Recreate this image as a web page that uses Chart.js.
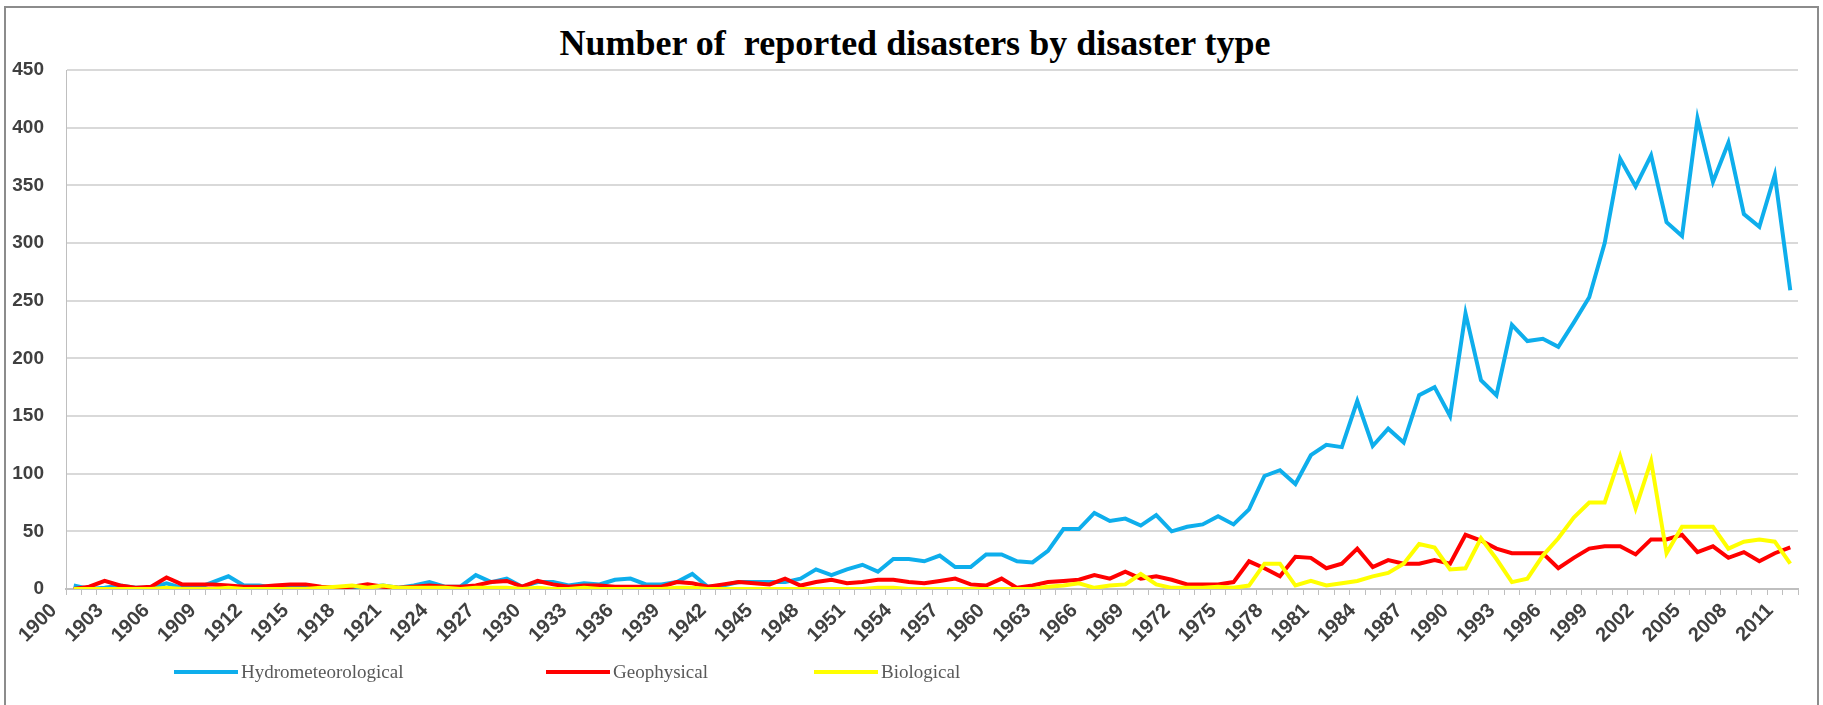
<!DOCTYPE html>
<html>
<head>
<meta charset="utf-8">
<title>Number of reported disasters by disaster type</title>
<script src="https://cdn.jsdelivr.net/npm/chart.js@4.4.1/dist/chart.umd.min.js"></script>
<style>
  html, body { margin: 0; padding: 0; background: #fff; }
  .wrap { position: relative; width: 1823px; height: 705px; overflow: hidden; }
  .frame { position: absolute; left: 4px; top: 6px; width: 1815px; height: 760px; border: 2px solid #8c8c8c; box-sizing: border-box; }
  .title { position: absolute; left: 0; top: 22px; width: 1830px; text-align: center; line-height: 43px;
           font: bold 36px 'Liberation Serif', 'Times New Roman', serif; color: #000; white-space: pre; }
  canvas { position: absolute; left: 0; top: 0; }
  .legend { position: absolute; left: 0; top: 0; width: 100%; height: 100%; pointer-events: none; }
  .legend-item { position: absolute; top: 660px; height: 24px; display: flex; align-items: center;
                 font: 19px 'Liberation Serif', 'Times New Roman', serif; color: #595959; white-space: nowrap; }
  .legend-item i { display: inline-block; width: 64px; height: 4px; margin-right: 3px; }
</style>
</head>
<body>
<div class="wrap">
  <div class="frame"></div>
  <div class="title">Number of  reported disasters by disaster type</div>
  <canvas id="chart" width="1823" height="705"></canvas>
  <div class="legend" id="legend"></div>
</div>
<script>
// Years 1900 - 2011
const years = [];
for (let y = 1900; y <= 2011; y++) years.push(String(y));

const hydrometeorological = [
  3, 0, 1, 3, 1, 1, 5, 1, 1, 6, 11, 3, 3, 1, 1, 1, 0, 0, 0, 2,
  3, 1, 3, 6, 2, 2, 12, 6, 9, 2, 6, 6, 3, 5, 4, 8, 9, 4, 4, 6,
  13, 2, 3, 6, 6, 6, 6, 9, 17, 12, 17, 21, 15, 26, 26, 24, 29, 19, 19, 30,
  30, 24, 23, 33, 52, 52, 66, 59, 61, 55, 64, 50, 54, 56, 63, 56, 69, 98, 103, 91,
  116, 125, 123, 163, 124, 139, 127, 168, 175, 150, 239, 181, 168, 229, 215, 217, 210, 231, 253, 300,
  373, 349, 376, 318, 306, 408, 353, 387, 325, 314, 359, 259
];

const geophysical = [
  0, 2, 7, 3, 1, 2, 10, 4, 4, 4, 3, 2, 2, 3, 4, 4, 2, 1, 2, 4,
  2, 1, 2, 3, 2, 2, 3, 6, 7, 2, 7, 4, 2, 3, 3, 2, 2, 2, 2, 6,
  5, 2, 4, 6, 5, 4, 9, 3, 6, 8, 5, 6, 8, 8, 6, 5, 7, 9, 4, 3,
  9, 1, 3, 6, 7, 8, 12, 9, 15, 9, 11, 8, 4, 4, 4, 6, 24, 18, 11, 28,
  27, 18, 22, 35, 19, 25, 22, 22, 25, 22, 47, 42, 35, 31, 31, 31, 18, 27, 35, 37,
  37, 30, 43, 43, 47, 32, 37, 27, 32, 24, 31, 36
];

const biological = [
  0, 0, 0, 0, 0, 0, 1, 0, 0, 0, 1, 0, 0, 0, 0, 0, 1, 2, 3, 1,
  3, 1, 1, 1, 1, 0, 1, 1, 1, 0, 1, 0, 0, 1, 0, 0, 0, 0, 0, 1,
  1, 0, 0, 0, 0, 0, 0, 0, 0, 0, 0, 0, 1, 1, 0, 0, 0, 0, 0, 0,
  0, 0, 0, 2, 3, 5, 1, 3, 4, 13, 4, 1, 1, 1, 2, 1, 3, 22, 22, 3,
  7, 3, 5, 7, 11, 14, 22, 39, 36, 17, 18, 44, 26, 6, 9, 29, 44, 62, 75, 75,
  115, 70, 111, 31, 54, 54, 54, 35, 41, 43, 41, 22
];

const seriesNames = ['Hydrometeorological', 'Geophysical', 'Biological'];
const seriesColours = ['#0EAEEC', '#FF0000', '#FFFF00'];

const yFont = { family: "'Liberation Sans', Arial, sans-serif", size: 19, weight: 'bold' };
const xFont = { family: "'Liberation Sans', Arial, sans-serif", size: 20, weight: 'bold' };

const chart = new Chart(document.getElementById('chart').getContext('2d'), {
  type: 'line',
  data: {
    labels: years,
    datasets: [hydrometeorological, geophysical, biological].map((data, i) => ({
      label: seriesNames[i],
      data: data,
      borderColor: seriesColours[i],
      backgroundColor: seriesColours[i],
      order: 3 - i // later series sit on top, like the original
    }))
  },
  options: {
    responsive: false,
    animation: false,
    layout: { padding: { left: 0, right: 25, top: 70, bottom: 0 } },
    plugins: {
      legend: { display: false },
      title: { display: false },
      tooltip: { enabled: false }
    },
    elements: {
      point: { radius: 0 },
      line: { tension: 0, borderWidth: 4, fill: false }
    },
    scales: {
      x: {
        offset: true,
        grid: { offset: true, drawOnChartArea: false, drawTicks: true, tickLength: 6, color: '#bfbfbf', lineWidth: 1 },
        border: { display: true, color: '#bfbfbf', width: 2 },
        ticks: {
          autoSkip: false,
          maxRotation: 45,
          minRotation: 45,
          padding: 4,
          labelOffset: -20,
          color: '#404040',
          font: xFont,
          callback: function (value, index) {
            return index % 3 === 0 ? this.getLabelForValue(value) : '';
          }
        },
        afterFit: scale => { scale.height = 116; }
      },
      y: {
        min: 0,
        max: 450,
        ticks: { stepSize: 50, padding: 22, color: '#404040', font: yFont },
        grid: { color: '#d9d9d9', lineWidth: 2, drawTicks: false },
        border: { display: true, color: '#bfbfbf', width: 1 },
        afterFit: scale => { scale.width = 66; }
      }
    }
  }
});

// Legend placed like the original (left part of the bottom band)
const legendLeft = [174, 546, 814];
const legendEl = document.getElementById('legend');
chart.data.datasets.forEach((ds, i) => {
  const item = document.createElement('div');
  item.className = 'legend-item';
  item.style.left = legendLeft[i] + 'px';
  const swatch = document.createElement('i');
  swatch.style.background = ds.borderColor;
  item.appendChild(swatch);
  item.appendChild(document.createTextNode(ds.label));
  legendEl.appendChild(item);
});
</script>
</body>
</html>
